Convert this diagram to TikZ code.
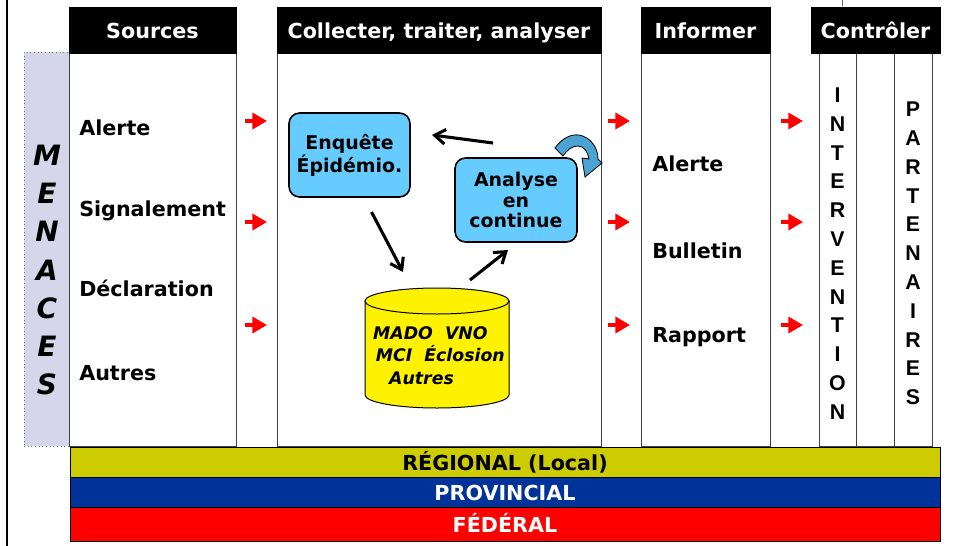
\documentclass[tikz,border=0pt]{standalone}
\usepackage{fontspec}
\setmainfont{DejaVu Sans}
\newfontfamily\arialfont{Liberation Sans}
\usetikzlibrary{arrows.meta}
\definecolor{skyfill}{HTML}{66CCFF}
\definecolor{olivebar}{HTML}{CCCC00}
\definecolor{provblue}{HTML}{003399}
\definecolor{menfill}{HTML}{D6D6EA}
\definecolor{curlblue}{HTML}{4BA3D3}

\begin{document}
\begin{tikzpicture}[x=0.75pt, y=-0.75pt,
    box/.style 2 args={minimum width=#1*0.75pt, minimum height=#2*0.75pt, inner sep=0pt, outer sep=0pt},
    head/.style={draw, fill=black, text=white, text height=13pt, text depth=0pt, font=\bfseries\fontsize{15.5}{18}\selectfont},
    colbody/.style={draw=black!75, line width=0.75pt, fill=white},
    item/.style={anchor=west, inner sep=0pt, font=\bfseries\fontsize{15.5}{18}\selectfont},
    bluebox/.style={draw, line width=1.2pt, fill=skyfill, rounded corners=8pt, align=center, font=\bfseries\fontsize{14.2}{15.6}\selectfont},
    band/.style={draw, line width=0.75pt, text height=13pt, text depth=0pt, font=\bfseries\fontsize{15.5}{18}\selectfont},
    redarr/.style={red, line width=3.5pt, -{Triangle[length=11pt, width=12pt]}},
    blkarr/.style={line width=2.3pt, -{Straight Barb[length=8pt, width=11pt]}},
    vword/.style={align=center, inner sep=0pt, font=\arialfont\bfseries\fontsize{16}{21.6}\selectfont}
  ]
  \useasboundingbox (0,0) rectangle (953,546);

  \draw[line width=1.5pt] (7,0) -- (7,546);
  \draw[black!60, line width=0.75pt] (842,0) -- (842,6);

  \node[box={45}{394}, draw=black!55, dotted, line width=0.75pt, fill=menfill] (menbox) at (46.5,249) {};
  \node[align=center, inner sep=0pt, font=\bfseries\itshape\fontsize{21}{28.7}\selectfont] (menaces) at (47,270)
    {M\\E\\N\\A\\C\\E\\S};

  % columns
  \node[colbody, box={167}{393}] (srcbody) at (152.5,249.5) {};
  \node[colbody, box={324}{393}] (colbody) at (439,249.5) {};
  \node[colbody, box={129}{393}] (infbody) at (705.5,249.5) {};
  \node[colbody, box={113}{393}] (ctlbody) at (875.5,249.5) {};
  \node[colbody, box={37}{393}] (interv) at (837.5,249.5) {};
  \node[colbody, box={38}{393}] (parten) at (913,249.5) {};

  \node[head, box={167}{46}] (srchead) at (152.5,30) {Sources};
  \node[head, box={324}{46}] (colhead) at (439,30) {Collecter, traiter, analyser};
  \node[head, box={129}{46}] (infhead) at (705.5,30) {Informer};
  \node[head, box={129}{46}] (ctlhead) at (875.5,30) {Contrôler};

  \node[item] (srcalert) at (79,128) {Alerte};
  \node[item] (srcsign) at (79,211) {Signalement};
  \node[item] (srcdecl) at (79,288) {Déclaration};
  \node[item] (srcautres) at (79,373) {Autres};

  \node[item] (infalert) at (652,164) {Alerte};
  \node[item] (infbull) at (652,251) {Bulletin};
  \node[item] (infrapp) at (652,337) {Rapport};

  \node[vword] (intervtxt) at (837.5,253.5) {I\\N\\T\\E\\R\\V\\E\\N\\T\\I\\O\\N};
  \node[vword] (partentxt) at (913,253.5) {P\\A\\R\\T\\E\\N\\A\\I\\R\\E\\S};

  \foreach \gx/\gn in {245/s,608/c,781/i}
    \foreach \gy/\gm in {121/1,222/2,325/3} {
      \coordinate (r\gn\gm) at (\gx,\gy);
      \draw[redarr] (r\gn\gm) -- ++(22,0);
    }

  % collecter, traiter, analyser
  \node[bluebox, box={121}{84}] (enq) at (349.5,155) {Enquête\\Épidémio.};
  \node[bluebox, box={122}{84}] (ana) at (516,200) {Analyse\\en\\continue};

  \draw[fill=yellow, line width=0.75pt] (365,301) -- (365,395)
    arc[start angle=180, end angle=0, x radius=72, y radius=13] -- (509,301) -- cycle;
  \draw[fill=yellow, line width=0.75pt] (437,301) ellipse [x radius=72, y radius=13];
  \coordinate (dbtop) at (437,288);
  \node[align=left, inner sep=0pt, font=\bfseries\itshape\fontsize{13}{17}\selectfont] (db) at (439,355.5)
    {MADO~~VNO\\\hspace*{2pt}MCI~~Éclosion\\\hspace*{12pt}Autres};

  \draw[blkarr] ([shift={(38,-15)}]ana.north west) -- ([shift={(22,22)}]enq.north east);
  \draw[blkarr] ([shift={(22,15)}]enq.south) -- ([shift={(-34,-16)}]dbtop);
  \draw[blkarr] ([shift={(33,-8)}]dbtop) -- ([shift={(-8,8)}]ana.south);

  \draw[fill=curlblue, line width=0.6pt] (555,148) .. controls (562,138) and (571,134) .. (579,135)
    .. controls (590,137) and (598,147) .. (598,159) -- (602,163) -- (585,177) -- (582,158)
    -- (589,159) .. controls (588,152) and (584,146) .. (578,146)
    .. controls (572,146) and (567,150) .. (563,156) -- cycle;

  % levels
  \node[band, box={870}{30}, fill=olivebar] (regional) at (505,462) {RÉGIONAL (Local)};
  \node[band, box={870}{30}, fill=provblue, text=white] (provincial) at (505,492) {PROVINCIAL};
  \node[band, box={870}{34}, fill=red, text=white] (federal) at (505,524) {FÉDÉRAL};
\end{tikzpicture}
\end{document}
